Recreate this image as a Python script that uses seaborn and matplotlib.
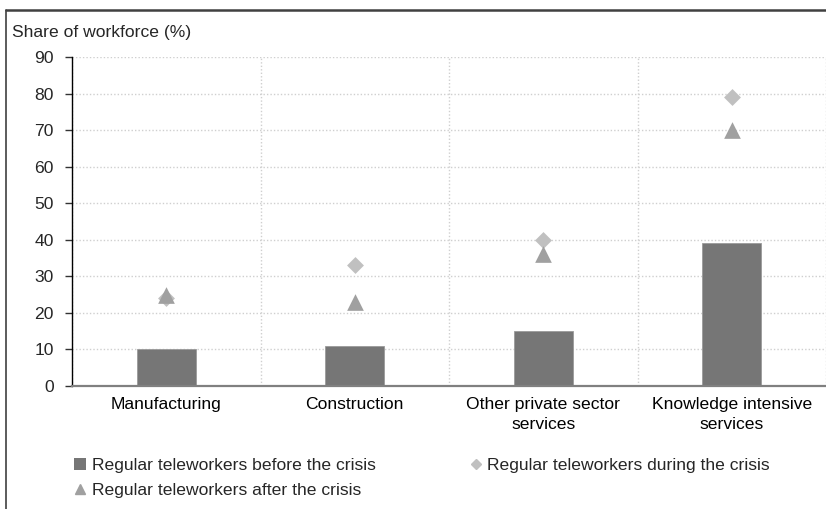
import pandas as pd
import seaborn as sns
import matplotlib.pyplot as plt
from matplotlib.lines import Line2D
from matplotlib.patches import Patch

# Data
sectors = ['Manufacturing', 'Construction', 'Other private sector\nservices',
           'Knowledge intensive\nservices']
before_crisis = [10, 11, 15, 39]
during_crisis = [24, 33, 40, 79]
after_crisis = [25, 23, 36, 70]
y_ticks = [0, 10, 20, 30, 40, 50, 60, 70, 80, 90]

df = pd.DataFrame({'Sector': sectors, 'Before': before_crisis,
                   'During': during_crisis, 'After': after_crisis})

sns.set_style('white')
plt.rcParams['font.family'] = ['Liberation Sans', 'DejaVu Sans']
FS = 12.6

fig = plt.figure(figsize=(8.26, 5.09), dpi=100)
ax = fig.add_axes([0.0872, 0.2417, 0.9128, 0.6463])

bar_col = '#767676'
dia_col = '#c0c0c0'
tri_col = '#a0a0a0'

sns.barplot(data=df, x='Sector', y='Before', color=bar_col, width=0.313,
            saturation=1, edgecolor='#9a9a9a', linewidth=0.6, ax=ax, zorder=2)
sns.stripplot(data=df, x='Sector', y='During', marker='D', color=dia_col,
              size=8.6, jitter=False, linewidth=0, ax=ax, zorder=3)
sns.stripplot(data=df, x='Sector', y='After', marker='^', color=tri_col,
              size=12, jitter=False, linewidth=0, ax=ax, zorder=4)

ax.set_xlim(-0.5, 3.5)
ax.set_ylim(0, 90)
ax.set_yticks(y_ticks)
ax.set_xlabel('')
ax.set_ylabel('')

# gridlines: dotted, horizontal at ticks, vertical at category boundaries
ax.set_xticks([-0.5, 0.5, 1.5, 2.5, 3.5], minor=True)
ax.grid(axis='y', which='major', color='#cfcfcf', linestyle=(0, (1, 1.5)), linewidth=1)
ax.grid(axis='x', which='minor', color='#cfcfcf', linestyle=(0, (1, 1.5)), linewidth=1)
ax.grid(axis='x', which='major', visible=False)
ax.set_axisbelow(True)

ax.tick_params(axis='x', which='major', length=0, pad=8, labelsize=FS, colors='black')
ax.tick_params(axis='x', which='minor', length=6, width=1, color='#333333', direction='out')
ax.tick_params(axis='y', which='major', length=5, width=1, color='#333333', direction='out',
               left=True, pad=8, labelsize=FS)
for lab in ax.get_xticklabels():
    lab.set_linespacing(1.4)

for s in ['top', 'right']:
    ax.spines[s].set_visible(False)
ax.spines['left'].set_color('black')
ax.spines['left'].set_linewidth(1)
ax.spines['bottom'].set_color('#808080')
ax.spines['bottom'].set_linewidth(1.6)

fig.text(12 / 826, 1 - 32 / 509, 'Share of workforce (%)', fontsize=FS, va='center', ha='left')

handles = [
    Patch(facecolor=bar_col, edgecolor='none', label='Regular teleworkers before the crisis'),
    Line2D([], [], marker='^', color=tri_col, linestyle='none', markersize=6.5,
           label='Regular teleworkers after the crisis'),
    Line2D([], [], marker='D', color=dia_col, linestyle='none', markersize=5,
           label='Regular teleworkers during the crisis'),
]
fig.legend(handles=handles, ncol=2, loc='center left',
           bbox_to_anchor=(74 / 826, 1 - 478 / 509),
           frameon=False, fontsize=FS, handlelength=0.7, handleheight=0.7,
           handletextpad=0.3, columnspacing=5.4, labelspacing=0.58, borderaxespad=0,
           borderpad=0)

# outer frame (top and left edges visible in the crop)
fig.add_artist(Line2D([6 / 826, 6 / 826], [0, 1 - 10 / 509], transform=fig.transFigure,
                      color='#404040', linewidth=1.2))
fig.add_artist(Line2D([6 / 826, 1], [1 - 10 / 509, 1 - 10 / 509], transform=fig.transFigure,
                      color='#404040', linewidth=1.8))

fig.savefig('out.png', dpi=100)
